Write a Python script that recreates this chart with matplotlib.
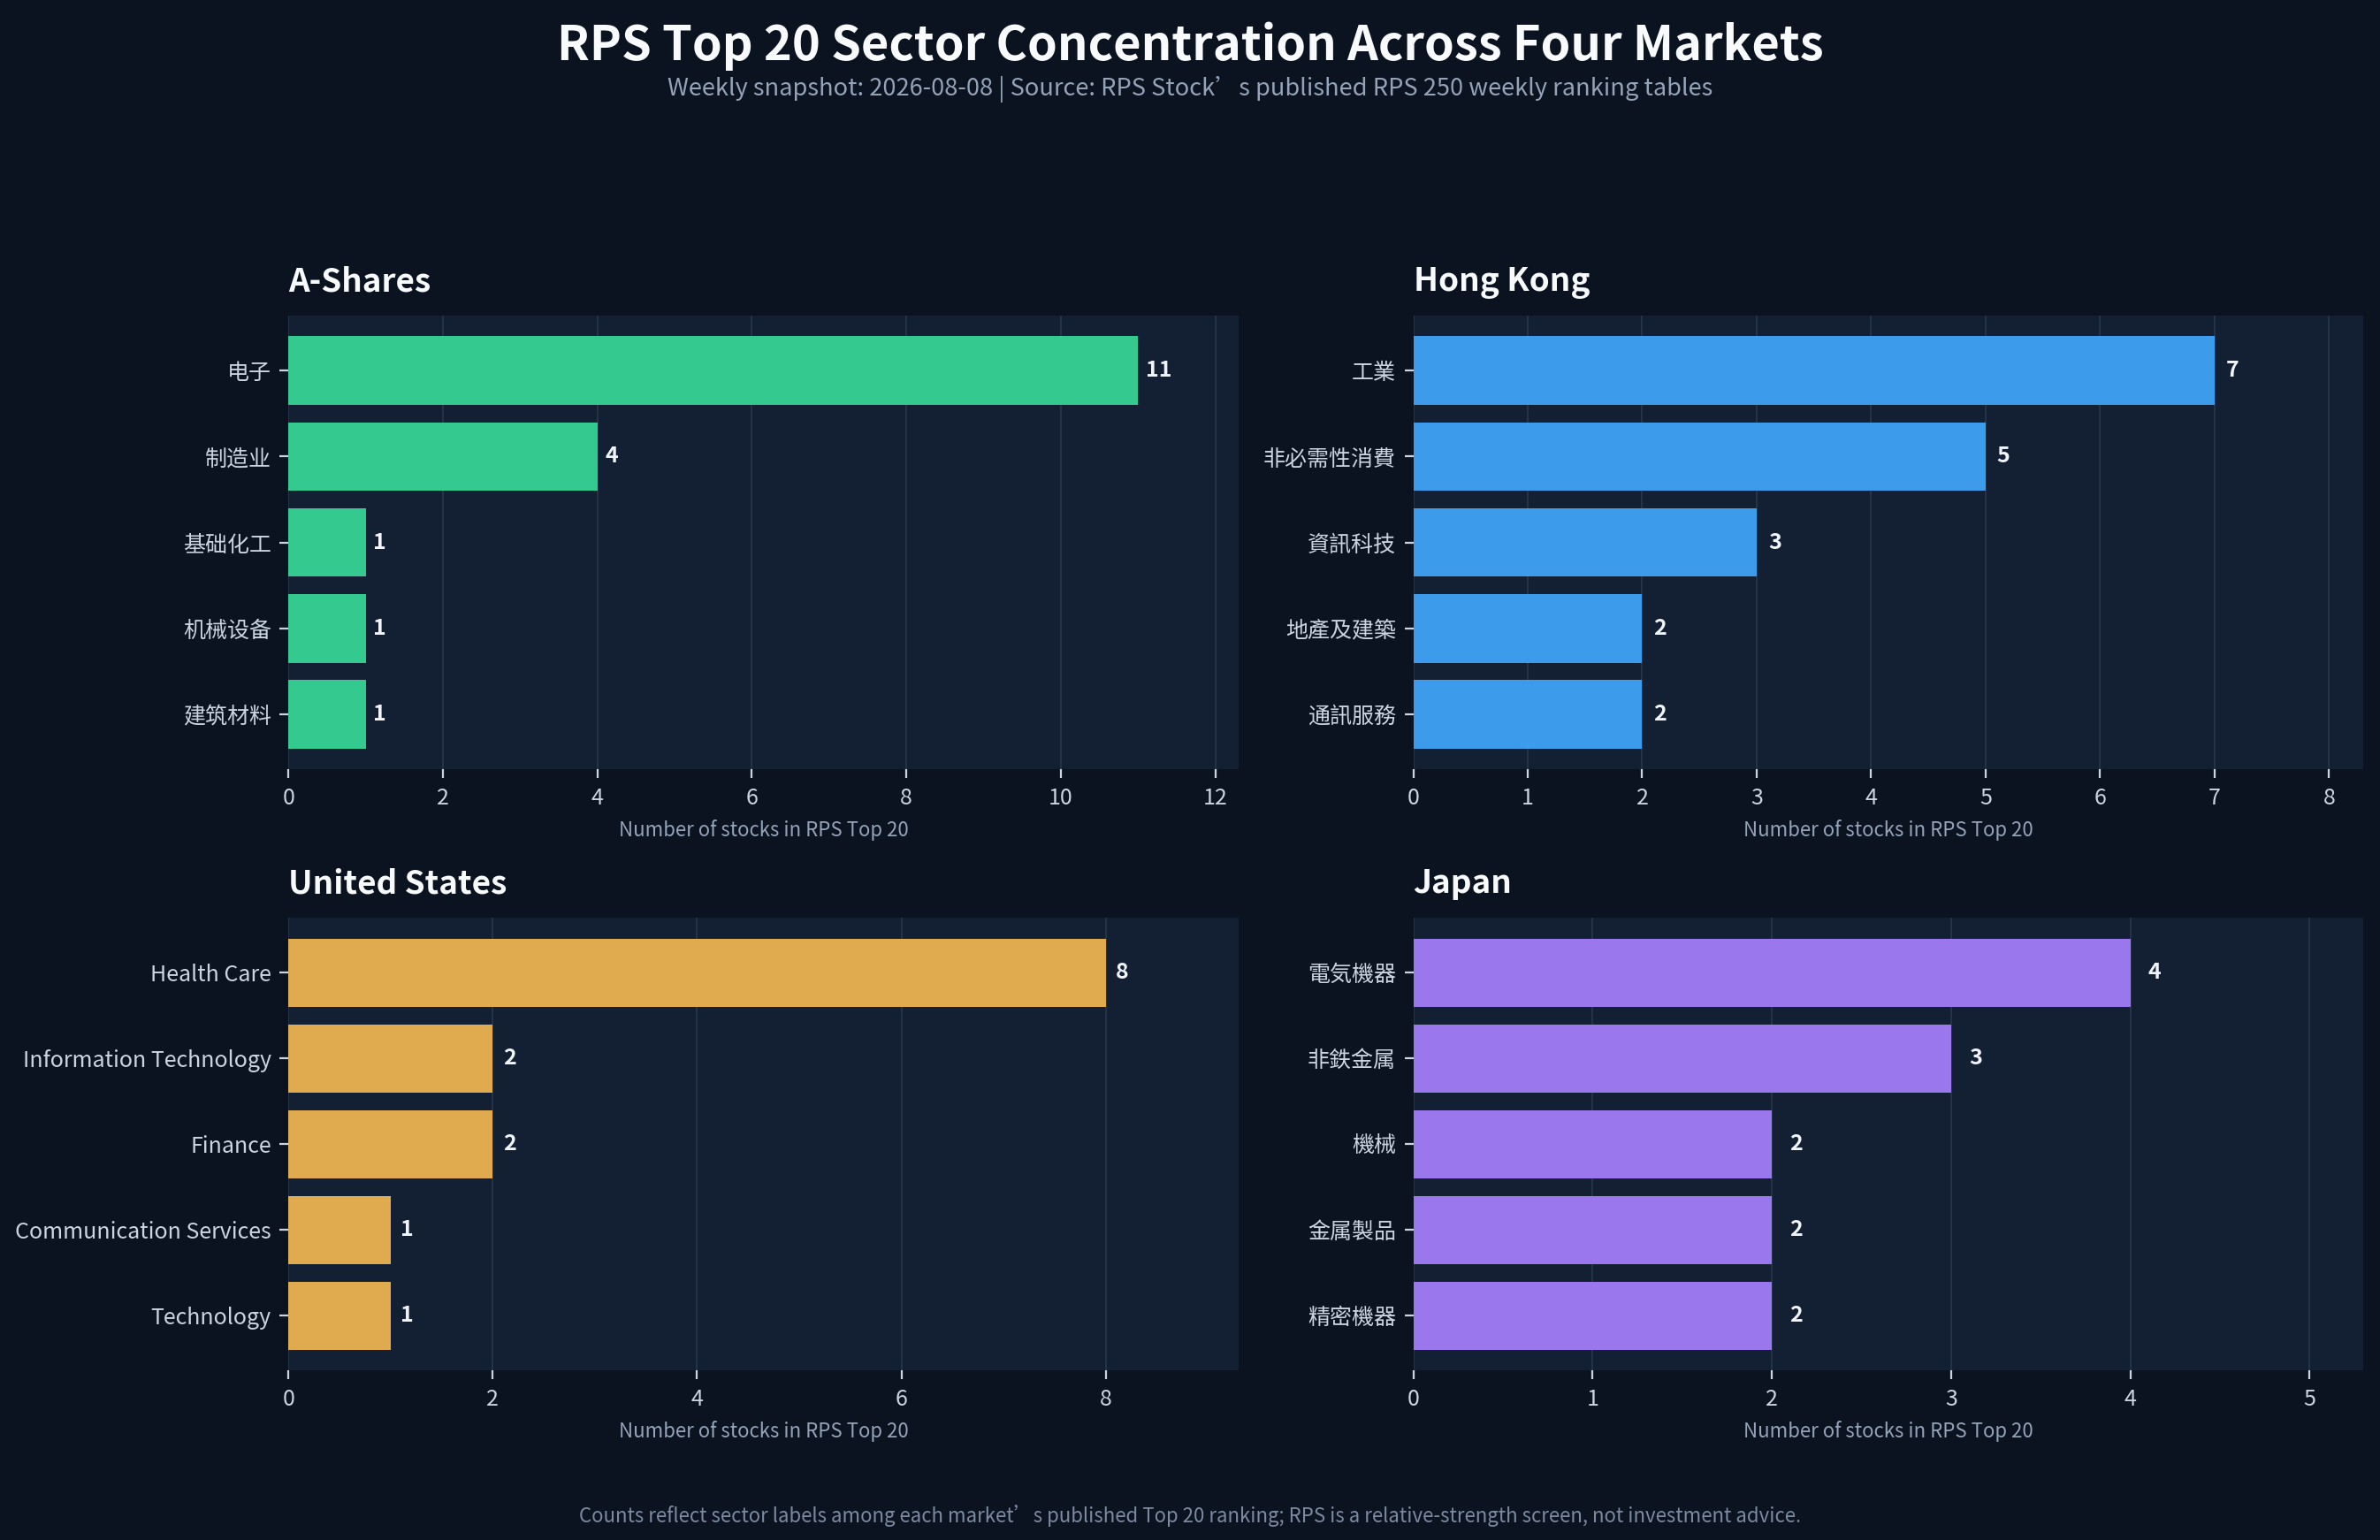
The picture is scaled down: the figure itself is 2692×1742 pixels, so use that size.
import matplotlib
matplotlib.use("Agg")
import matplotlib.pyplot as plt

plt.rcParams['font.family'] = ['Noto Sans CJK SC', 'DejaVu Sans']

a_sectors = ["电子", "制造业", "基础化工", "机械设备", "建筑材料"]
a_counts = [11, 4, 1, 1, 1]
hk_sectors = ["工業", "非必需性消費", "資訊科技", "地產及建築", "通訊服務"]
hk_counts = [7, 5, 3, 2, 2]
us_sectors = ["Health Care", "Information Technology", "Finance", "Communication Services", "Technology"]
us_counts = [8, 2, 2, 1, 1]
jp_sectors = ["電気機器", "非鉄金属", "機械", "金属製品", "精密機器"]
jp_counts = [4, 3, 2, 2, 2]

panels = [
    ("A-Shares", a_sectors, a_counts, "#34C98E"),
    ("Hong Kong", hk_sectors, hk_counts, "#3D9BEB"),
    ("United States", us_sectors, us_counts, "#E0AA4E"),
    ("Japan", jp_sectors, jp_counts, "#9B77EE"),
]

FIG_BG = "#0B1220"
AX_BG = "#131F33"
W, H = 2692, 1742
fig = plt.figure(figsize=(W / 200, H / 200), dpi=200, facecolor=FIG_BG)

# positions (fractions) measured from reference
lefts = [0.1212, 0.5938]
width = [0.5204 - 0.1212, 0.993 - 0.5938]
rows = [(0.5005, 0.795 - 0.5005), (0.110, 0.404 - 0.110)]

for i, (name, cats, vals, color) in enumerate(panels):
    r, c = divmod(i, 2)
    ax = fig.add_axes([lefts[c], rows[r][0], width[c], rows[r][1]])
    ax.set_facecolor(AX_BG)
    y = list(range(len(cats)))
    ax.barh(y, vals, height=0.8, color=color, zorder=3)
    ax.set_yticks(y)
    ax.set_yticklabels(cats)
    ax.invert_yaxis()
    ax.set_xlim(0, max(vals) + 1.3)
    for yy, v in zip(y, vals):
        ax.text(v + 0.1, yy, str(v), va="center", ha="left", color="#F1F5F9",
                fontsize=9, fontweight="bold", zorder=4)
    for s in ax.spines.values():
        s.set_visible(False)
    ax.grid(axis="x", color="#26344A", linewidth=0.7, zorder=0)
    ax.set_axisbelow(True)
    ax.tick_params(axis="both", colors="#CBD5E1", labelsize=9, length=3.5, width=0.8)
    ax.set_xlabel("Number of stocks in RPS Top 20", color="#94A3B8", fontsize=8, labelpad=4)
    ax.set_title(name, loc="left", color="#F8FAFC", fontsize=13.3, fontweight="bold", pad=10)

fig.text(0.5, 0.970, "RPS Top 20 Sector Concentration Across Four Markets", ha="center", va="center",
         color="#F8FAFC", fontsize=19.5, fontweight="bold")
fig.text(0.5, 0.942, "Weekly snapshot: 2026-08-08 | Source: RPS Stock’s published RPS 250 weekly ranking tables",
         ha="center", va="center", color="#94A3B8", fontsize=9.8)
fig.text(0.5, 0.0155, "Counts reflect sector labels among each market’s published Top 20 ranking; RPS is a relative-strength screen, not investment advice.",
         ha="center", va="center", color="#7C8AA1", fontsize=8)

fig.savefig("out.png", dpi=200, facecolor=FIG_BG)
